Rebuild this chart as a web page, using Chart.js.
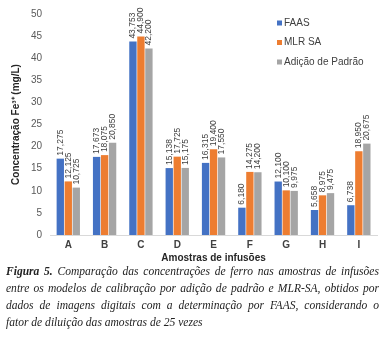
<!DOCTYPE html>
<html>
<head>
<meta charset="utf-8">
<script src="https://cdn.jsdelivr.net/npm/chart.js@4.4.0/dist/chart.umd.min.js"></script>
<style>
  body { margin: 0; background: #fff; width: 386px; height: 340px; overflow: hidden; }
  #wrap { position: absolute; left: 0; top: 0; width: 386px; height: 264px; }
  #caption {
    position: absolute; left: 6px; top: 262px; width: 420px;
    transform: scaleX(0.888); transform-origin: 0 0;
    font-family: "Liberation Serif", "Times New Roman", serif; font-style: italic;
    font-size: 13px; line-height: 17px; color: #222;
  }
  #caption div { text-align: justify; text-align-last: justify; white-space: nowrap; }
  #caption div.last { text-align-last: left; }
  #caption b { font-weight: bold; }
</style>
</head>
<body>
<div id="wrap"><canvas id="chart"></canvas></div>
<div id="caption">
  <div><b>Figura 5.</b> Comparação das concentrações de ferro nas amostras de infusões</div>
  <div>entre os modelos de calibração por adição de padrão e MLR-SA, obtidos por</div>
  <div>dados de imagens digitais com a determinação por FAAS, considerando o</div>
  <div class="last">fator de diluição das amostras de 25 vezes</div>
</div>
<script>
var samples = ['A', 'B', 'C', 'D', 'E', 'F', 'G', 'H', 'I'];
var faas = [17.275, 17.673, 43.753, 15.138, 16.315, 6.180, 12.100, 5.658, 6.738];
var mlrSa = [12.125, 18.075, 44.900, 17.725, 19.400, 14.275, 10.100, 8.975, 18.950];
var adicao = [10.725, 20.850, 42.200, 15.175, 17.550, 14.200, 9.975, 9.475, 20.675];
var seriesNames = ['FAAS', 'MLR SA', 'Adição de Padrão'];
var colors = ['#4472C4', '#ED7D31', '#A5A5A5'];

// value labels rotated above each bar
var barLabels = {
  id: 'barLabels',
  afterDatasetsDraw: function(chart) {
    var ctx = chart.ctx;
    ctx.save();
    ctx.font = '8.5px "Liberation Sans", Arial, sans-serif';
    ctx.fillStyle = '#404040';
    ctx.textAlign = 'left';
    ctx.textBaseline = 'middle';
    chart.data.datasets.forEach(function(ds, i) {
      chart.getDatasetMeta(i).data.forEach(function(bar, j) {
        var txt = ds.data[j].toFixed(3).replace('.', ',');
        ctx.save();
        ctx.translate(bar.x, bar.y - 3);
        ctx.rotate(-Math.PI / 2);
        ctx.fillText(txt, 0, 0);
        ctx.restore();
      });
    });
    ctx.restore();
  }
};

// legend drawn inside the plot, upper right
var sideLegend = {
  id: 'sideLegend',
  afterDraw: function(chart) {
    var ctx = chart.ctx;
    ctx.save();
    ctx.font = '10px "Liberation Sans", Arial, sans-serif';
    ctx.textBaseline = 'middle';
    chart.data.datasets.forEach(function(ds, i) {
      var y = 23 + i * 19.5;
      ctx.fillStyle = ds.backgroundColor;
      ctx.fillRect(277, y - 2.5, 5, 5);
      ctx.fillStyle = '#404040';
      ctx.fillText(ds.label, 284, y);
    });
    ctx.restore();
  }
};

var datasets = [faas, mlrSa, adicao].map(function(d, i) {
  return { label: seriesNames[i], data: d, backgroundColor: colors[i] };
});

new Chart(document.getElementById('chart'), {
  type: 'bar',
  data: { labels: samples, datasets: datasets },
  options: {
    responsive: true,
    maintainAspectRatio: false,
    animation: false,
    categoryPercentage: 0.66,
    barPercentage: 0.92,
    layout: { padding: { left: 10, right: 9, top: 14, bottom: 0 } },
    plugins: { legend: { display: false }, tooltip: { enabled: false } },
    scales: {
      x: {
        grid: { display: false, drawTicks: false },
        border: { color: '#d9d9d9' },
        ticks: { padding: 4, color: '#404040', font: { family: '"Liberation Sans", Arial', size: 10, weight: 'bold' } },
        title: { display: true, text: 'Amostras de infusões', color: '#262626', padding: { top: -3, bottom: 0 },
          font: { family: '"Liberation Sans", Arial', size: 10, weight: 'bold' } }
      },
      y: {
        min: 0, max: 50,
        grid: { display: false, drawTicks: false },
        border: { display: false },
        ticks: { stepSize: 5, padding: 8, color: '#595959', font: { family: '"Liberation Sans", Arial', size: 10 } },
        title: { display: true, text: 'Concentração Fe³⁺ (mg/L)', color: '#262626', padding: { top: 0, bottom: 1 },
          font: { family: '"Liberation Sans", Arial', size: 10, weight: 'bold' } }
      }
    }
  },
  plugins: [barLabels, sideLegend]
});
</script>
</body>
</html>
